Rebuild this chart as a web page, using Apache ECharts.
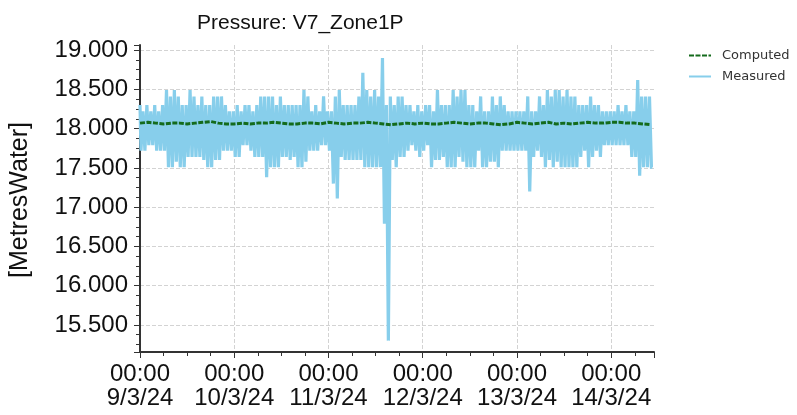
<!DOCTYPE html>
<html>
<head>
<meta charset="utf-8">
<script src="https://cdn.jsdelivr.net/npm/echarts@6/dist/echarts.min.js"></script>
<style>
html,body{margin:0;padding:0;background:#fff;}
#c{width:797px;height:415px;}
</style>
</head>
<body>
<div id="c"></div>
<script>
// Tick labels for day boundaries (x axis in hours from 9/3/24 00:00)
const dayLabels = ['00:00\n9/3/24','00:00\n10/3/24','00:00\n11/3/24','00:00\n12/3/24','00:00\n13/3/24','00:00\n14/3/24'];

// Measured: hourly upper readings (at hh:00) and lower readings (at hh:30)
const measuredHigh = [
  18.30,18.22,18.30,18.22,18.30,18.22,18.30,18.49,18.41,18.49,
  18.41,18.30,18.30,18.49,18.41,18.30,18.41,18.30,18.30,18.41,
  18.41,18.41,18.30,18.22,18.22,18.30,18.22,18.30,18.30,18.22,
  18.30,18.41,18.41,18.41,18.41,18.30,18.41,18.30,18.30,18.30,
  18.30,18.30,18.49,18.41,18.22,18.30,18.22,18.41,18.22,18.22,
  18.41,18.49,18.30,18.30,18.30,18.30,18.41,18.71,18.49,18.41,
  18.49,18.41,18.90,18.30,18.41,18.30,18.41,18.41,18.30,18.30,
  18.22,18.30,18.22,18.30,18.30,18.22,18.49,18.30,18.30,18.30,
  18.49,18.41,18.49,18.49,18.30,18.30,18.22,18.41,18.22,18.22,
  18.41,18.30,18.41,18.30,18.22,18.22,18.22,18.22,18.22,18.41,
  18.22,18.22,18.41,18.30,18.49,18.41,18.49,18.49,18.41,18.49,
  18.41,18.41,18.30,18.30,18.30,18.41,18.30,18.30,18.22,18.22,
  18.22,18.22,18.30,18.22,18.30,18.22,18.22,18.62,18.41,18.41,
  18.41
];
const measuredLow = [
  17.72,17.72,17.79,17.79,17.72,17.72,17.72,17.51,17.51,17.58,
  17.51,17.51,17.64,17.64,17.64,17.64,17.60,17.51,17.51,17.60,
  17.60,17.72,17.72,17.72,17.64,17.64,17.79,17.79,17.72,17.64,
  17.64,17.64,17.38,17.51,17.51,17.51,17.64,17.64,17.60,17.64,
  17.51,17.51,17.58,17.72,17.72,17.72,17.79,17.79,17.72,17.30,
  17.11,17.64,17.60,17.60,17.60,17.60,17.60,17.51,17.51,17.51,
  17.51,17.51,16.79,15.30,17.60,17.51,17.64,17.64,17.72,17.79,
  17.72,17.64,17.72,17.79,17.51,17.60,17.60,17.64,17.51,17.51,
  17.51,17.64,17.58,17.51,17.51,17.51,17.72,17.51,17.51,17.58,
  17.58,17.51,17.72,17.72,17.72,17.72,17.72,17.72,17.72,17.20,
  17.64,17.72,17.64,17.51,17.60,17.51,17.58,17.51,17.51,17.51,
  17.51,17.51,17.64,17.72,17.51,17.64,17.72,17.64,17.79,17.79,
  17.79,17.79,17.79,17.79,17.79,17.64,17.64,17.40,17.51,17.51,
  17.51
];

// Computed: one value every 2 hours
const computed = [
  18.07,18.08,18.07,18.06,18.07,18.07,18.06,18.07,18.08,18.09,
  18.07,18.06,18.06,18.07,18.06,18.07,18.07,18.08,18.07,18.06,
  18.06,18.07,18.07,18.06,18.08,18.07,18.06,18.07,18.07,18.08,
  18.07,18.06,18.05,18.06,18.07,18.06,18.07,18.06,18.06,18.07,
  18.08,18.07,18.06,18.07,18.07,18.06,18.05,18.06,18.08,18.07,
  18.06,18.07,18.08,18.06,18.07,18.06,18.07,18.08,18.07,18.07,
  18.08,18.08,18.07,18.07,18.06,18.05
];

const measuredData = [];
for (let i = 0; i < measuredHigh.length; i++) {
  measuredData.push([i, measuredHigh[i]]);
  measuredData.push([i + 0.5, measuredLow[i]]);
}
const computedData = computed.map((v, i) => [i * 2, v]);

const chart = echarts.init(document.getElementById('c'), null, {renderer: 'canvas'});
const axisColor = '#333';
const option = {
  animation: false,
  backgroundColor: '#fff',
  title: {
    text: 'Pressure: V7_Zone1P',
    left: 192, top: 8,
    textStyle: {fontFamily: 'Liberation Sans', fontSize: 21, fontWeight: 'normal', color: '#111'}
  },
  legend: {
    orient: 'vertical', left: 683, top: 44,
    itemWidth: 22, itemHeight: 10, itemGap: 8,
    itemStyle: {opacity: 0},
    textStyle: {fontFamily: 'DejaVu Sans', fontSize: 13, color: '#333', padding: [0, 0, 0, 6]},
    data: ['Computed', 'Measured']
  },
  grid: {left: 140, right: 143, top: 45, bottom: 63},
  graphic: [{
    type: 'text', x: 20, y: 200, rotation: Math.PI / 2,
    style: {text: '[MetresWater]', fontFamily: 'Liberation Sans', fontSize: 25, fill: '#111',
            textAlign: 'center', textVerticalAlign: 'middle'}
  }],
  xAxis: {
    type: 'value', min: 0, max: 130.9, interval: 24,
    axisLine: {show: true, onZero: false, lineStyle: {color: axisColor, width: 2}},
    axisTick: {show: true, length: 6, lineStyle: {color: axisColor}},
    minorTick: {show: true, splitNumber: 4, length: 4, lineStyle: {color: axisColor}},
    axisLabel: {
      showMaxLabel: false, margin: 10, lineHeight: 24,
      fontFamily: 'Liberation Sans', fontSize: 24, color: '#111',
      formatter: v => (v % 24 === 0 && dayLabels[v / 24] !== undefined) ? dayLabels[v / 24] : ''
    },
    splitLine: {show: true, showMaxLine: false, lineStyle: {type: 'dashed', color: '#d3d3d3'}}
  },
  yAxis: {
    type: 'value', min: 15.155, max: 19.065, splitNumber: 7,
    axisLine: {show: true, lineStyle: {color: axisColor, width: 2}},
    axisTick: {show: true, length: 6, lineStyle: {color: axisColor}},
    minorTick: {show: true, splitNumber: 4, length: 4, lineStyle: {color: axisColor}},
    axisLabel: {
      showMinLabel: false, showMaxLabel: false, margin: 12,
      fontFamily: 'Liberation Sans', fontSize: 24, color: '#111',
      formatter: v => v.toFixed(3)
    },
    splitLine: {show: true, showMinLine: false, showMaxLine: false, lineStyle: {type: 'dashed', color: '#d3d3d3'}}
  },
  series: [
    {
      name: 'Computed', type: 'line', data: computedData, symbol: 'none', z: 4,
      itemStyle: {color: '#146b1c'},
      lineStyle: {color: '#146b1c', width: 3, type: [5, 1.5]}
    },
    {
      name: 'Measured', type: 'line', data: measuredData, symbol: 'none', z: 3,
      step: 'middle',
      itemStyle: {color: '#87ceeb'},
      lineStyle: {color: '#87ceeb', width: 3.2, join: 'miter', cap: 'butt'}
    }
  ]
};
chart.setOption(option);
</script>
</body>
</html>
